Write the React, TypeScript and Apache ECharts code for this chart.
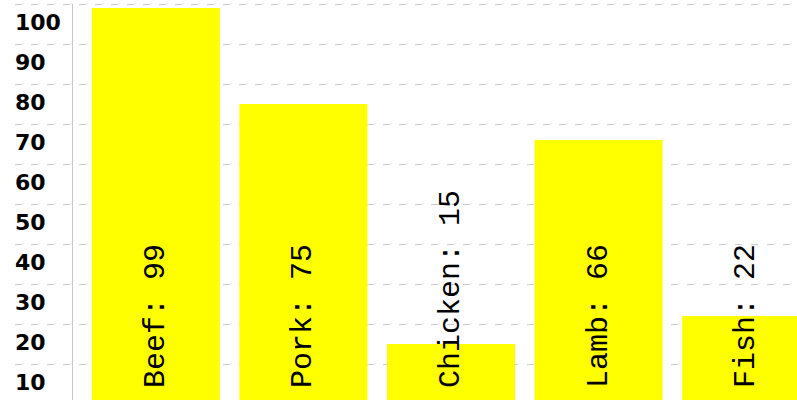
import React, { useEffect, useRef } from "react";
import * as echarts from "echarts";

const categories = ["Beef", "Pork", "Chicken", "Lamb", "Fish"];
const values = [99, 75, 15, 66, 22];
const yTicks = [0, 10, 20, 30, 40, 50, 60, 70, 80, 90, 100];

export default function App() {
  const ref = useRef<HTMLDivElement>(null);
  useEffect(() => {
    if (!ref.current) return;
    const chart = echarts.init(ref.current, null, { renderer: "svg" });
    const yMin = yTicks[0];
    const yMax = yTicks[yTicks.length - 1];
    const step = yTicks[1] - yTicks[0];
    chart.setOption({
      animation: false,
      backgroundColor: "#ffffff",
      grid: [
        { left: 15, right: 0, top: 4, height: 400, outerBoundsMode: "none" },
        { left: 82, width: 738, top: 4, height: 400, outerBoundsMode: "none" },
      ],
      xAxis: [
        { gridIndex: 0, type: "value", show: false, min: 0, max: 1 },
        {
          gridIndex: 1,
          type: "category",
          data: categories,
          show: false,
        },
      ],
      yAxis: [
        {
          gridIndex: 0,
          type: "value",
          min: yMin,
          max: yMax,
          interval: step,
          axisLine: { show: false },
          axisTick: { show: false },
          splitLine: {
            show: true,
            lineStyle: { color: "#cccccc", type: [7, 9], width: 1 },
          },
          axisLabel: {
            inside: true,
            margin: 0,
            align: "left",
            verticalAlign: "top",
            padding: [7, 0, 0, 0],
            color: "#000000",
            fontFamily: "DejaVu Sans",
            fontWeight: "bold",
            fontSize: 22,
            formatter: (v: number) => (v === 0 ? "" : String(v)),
          },
        },
        {
          gridIndex: 1,
          type: "value",
          min: yMin,
          max: yMax,
          interval: step,
          offset: 10,
          axisLine: { show: true, lineStyle: { color: "#c8c8c8", width: 1 } },
          axisTick: { show: false },
          splitLine: { show: false },
          axisLabel: { show: false },
        },
      ],
      series: [
        {
          type: "bar",
          xAxisIndex: 1,
          yAxisIndex: 1,
          data: values,
          barCategoryGap: "13.3%",
          itemStyle: { color: "#ffff00" },
          label: {
            show: true,
            position: "insideBottom",
            distance: 16,
            rotate: 90,
            align: "left",
            verticalAlign: "middle",
            color: "#000000",
            fontFamily: "Liberation Mono",
            fontSize: 30,
            formatter: "{b}: {c}",
          },
        },
      ],
    });
    return () => chart.dispose();
  }, []);
  return (
    <div
      ref={ref}
      style={{ position: "fixed", left: 0, top: 0, width: 797, height: 400 }}
    />
  );
}
